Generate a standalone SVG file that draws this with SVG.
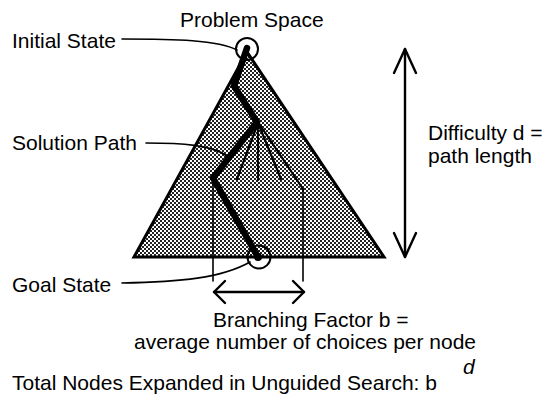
<svg xmlns="http://www.w3.org/2000/svg" width="551" height="399" viewBox="0 0 551 399">
<style>
text{font-family:"Liberation Sans",Arial,sans-serif;fill:#000;font-size:21px}
.thin{fill:none;stroke:#000;stroke-width:1.6;stroke-linecap:round}
.br{fill:none;stroke:#000;stroke-width:2.2;stroke-linecap:round}
.arr{fill:none;stroke:#000;stroke-width:2.4;stroke-linecap:round;stroke-linejoin:round}
</style>
<defs>
<pattern id="dots" width="4" height="4" patternUnits="userSpaceOnUse">
<rect width="4" height="4" fill="#fff"/>
<rect x="0" y="0" width="2" height="2" fill="#222"/>
<rect x="2" y="2" width="2" height="2" fill="#222"/>
</pattern>
</defs>
<rect width="551" height="399" fill="#fff"/>
<g id="problem-space">
<polygon points="247,52 134,257 384,257" fill="url(#dots)" stroke="#000" stroke-width="3" stroke-linejoin="miter"/>
<text x="180" y="27">Problem Space</text>
</g>
<g id="branches">
<line class="br" x1="258" y1="123" x2="237" y2="179"/>
<line class="br" x1="258" y1="123" x2="258" y2="180" stroke-dasharray="2,1.5"/>
<line class="br" x1="258" y1="123" x2="281" y2="179"/>
<line class="br" x1="258" y1="122" x2="303" y2="189"/>
</g>
<g id="solution-path">
<polyline points="247,48 234,86 257,122 213,178 258,257" fill="none" stroke="#000" stroke-width="6.5" stroke-linejoin="round" stroke-linecap="round"/>
</g>
<g id="initial-state">
<circle cx="247" cy="49" r="11" fill="none" stroke="#000" stroke-width="2"/>
<text x="12" y="48">Initial State</text>
</g>
<g id="goal-state">
<circle cx="259" cy="257" r="11.5" fill="none" stroke="#000" stroke-width="2"/>
<circle cx="258" cy="257" r="4" fill="#000"/>
<text x="12" y="292">Goal State</text>
</g>
<g id="solution-label">
<text x="12" y="150">Solution Path</text>
</g>
<g id="difficulty">
<text x="428" y="140">Difficulty d =</text>
<text x="428" y="163">path length</text>
</g>
<g id="branching">
<text x="213" y="327">Branching Factor b =</text>
<text x="134" y="349">average number of choices per node</text>
</g>
<g id="total">
<text x="12" y="390">Total Nodes Expanded in Unguided Search: b</text>
<text x="463" y="374" font-size="18" font-style="italic">d</text>
</g>
<g id="connectors">
<path class="thin" d="M122,39 C175,39 218,40 237,50"/>
<path class="thin" d="M146,143 C182,143 212,145 227,156"/>
<path class="thin" d="M122,283 C180,282 222,278 250,262"/>
<line class="thin" x1="213" y1="178" x2="213" y2="281"/>
<line class="thin" x1="303" y1="189" x2="303" y2="281"/>
<line class="arr" x1="214" y1="292" x2="304" y2="292"/>
<polyline class="arr" points="225,281 214,292 225,303"/>
<polyline class="arr" points="293,281 304,292 293,303"/>
<line class="arr" x1="405" y1="49" x2="405" y2="257"/>
<polyline class="arr" points="394,73 405,49 416,73"/>
<polyline class="arr" points="394,233 405,257 416,233"/>
</g>
</svg>
